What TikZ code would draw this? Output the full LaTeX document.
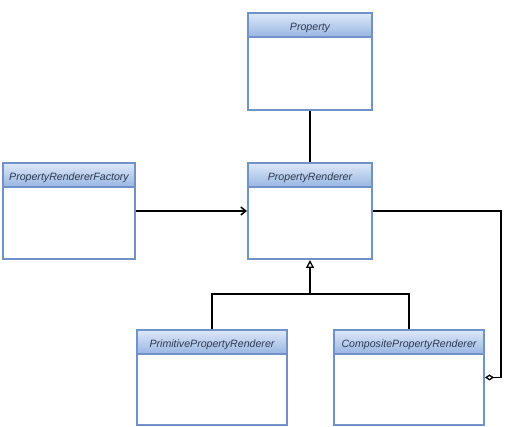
\documentclass[tikz,border=0pt]{standalone}
\usepackage{fontspec}
\setmainfont{Liberation Sans}
\usetikzlibrary{arrows.meta,calc}
\definecolor{bord}{HTML}{7092C8}
\definecolor{htop}{HTML}{DDE8F8}
\definecolor{hbot}{HTML}{98B6E2}
\definecolor{txt}{HTML}{2E3850}
\tikzset{
  classbox/.style={draw=bord, line width=2pt, fill=white, rectangle, inner sep=0pt},
  header/.style={draw=bord, line width=2pt, rectangle, anchor=north, minimum height=24pt, inner sep=0pt,
    text height=11pt, text depth=0pt,
    top color=htop, bottom color=hbot, text=txt, font=\fontsize{10.6}{12}\selectfont\itshape},
  conn/.style={line width=1.5pt, black},
}
\begin{document}
\begin{tikzpicture}[x=1pt,y=-1pt]
\useasboundingbox (0,0) rectangle (507,427);
% class boxes
\node[classbox, minimum width=124pt, minimum height=97pt] (prop) at (310,61.5) {};
\node[header, minimum width=124pt] (proph) at (prop.north) {Property};
\node[classbox, minimum width=132pt, minimum height=96pt] (fac) at (69,211) {};
\node[header, minimum width=132pt] (fach) at (fac.north) {PropertyRendererFactory};
\node[classbox, minimum width=124pt, minimum height=96pt] (pr) at (310,211) {};
\node[header, minimum width=124pt] (prh) at (pr.north) {PropertyRenderer};
\node[classbox, minimum width=150pt, minimum height=95pt] (prim) at (212,377.5) {};
\node[header, minimum width=150pt] (primh) at (prim.north) {PrimitivePropertyRenderer};
\node[classbox, minimum width=150pt, minimum height=95pt] (comp) at (409,377.5) {};
\node[header, minimum width=150pt] (comph) at (comp.north) {CompositePropertyRenderer};
% connectors
\coordinate (jn) at (310,294);
\coordinate (agg) at (501,377.5);
\draw[conn] (prop.south) -- (proph.north |- pr.north);
\draw[conn, -{Straight Barb[length=5pt,width=8pt,line width=1.5pt]}] (fac.east) -- (pr.west);
\draw[conn] (prim.north) |- (jn) -| (comp.north);
\draw[conn, -{Triangle[open,length=8pt,width=8pt,line width=1.3pt]}] (jn) -- (pr.south);
\draw[conn, -{Diamond[open,length=9pt,width=6pt,line width=1.3pt]}] (pr.east) -| (agg) -- (comp.east);
\end{tikzpicture}
\end{document}
